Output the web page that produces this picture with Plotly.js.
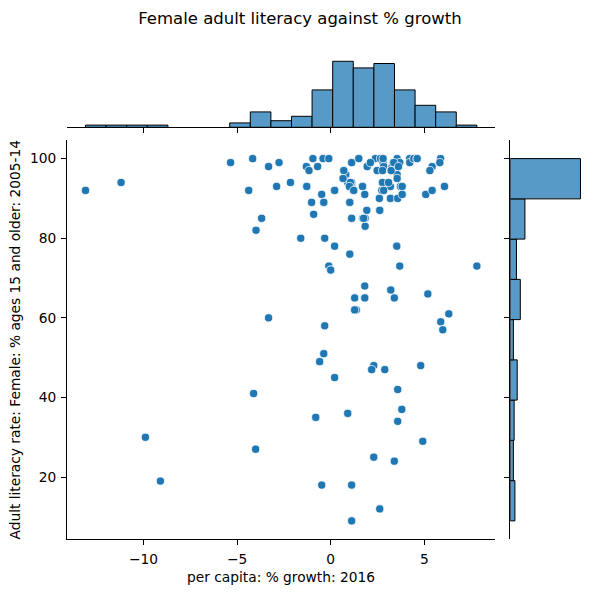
<!DOCTYPE html>
<html><head><meta charset="utf-8">
<script src="https://cdn.plot.ly/plotly-3.0.1.min.js"></script>
<style>html,body{margin:0;padding:0;background:#fff}#chart{width:594px;height:593px}</style>
</head><body><div id="chart"></div>
<script>
// per capita % growth 2016 (x) and female adult literacy % (y)
const growth = [
 -13.1,-11.2,-9.9,-9.1,-5.35,-4.38,-4.17,-4.12,-4.01,-3.99,
 -3.69,-3.32,-3.32,-2.89,-2.76,-2.15,-1.6,-1.3,-1.28,-1.16,
 -1.02,-0.95,-0.91,-0.8,-0.7,-0.59,-0.48,-0.48,-0.41,-0.37,
 -0.37,-0.32,-0.32,-0.1,-0.1,0.0,0.21,0.21,0.21,0.66,
 0.7,0.82,0.91,1.0,1.02,1.02,1.05,1.12,1.12,1.12,
 1.12,1.23,1.28,1.28,1.37,1.5,1.7,1.71,1.82,1.82,
 1.82,1.84,1.84,1.93,1.95,2.12,2.19,2.3,2.3,2.39,
 2.48,2.6,2.62,2.62,2.66,2.75,2.8,2.8,2.83,2.8,
 2.89,3.09,3.19,3.19,3.21,3.28,3.34,3.4,3.4,3.53,
 3.55,3.55,3.55,3.58,3.58,3.58,3.69,3.69,3.73,3.8,
 3.82,3.82,4.22,4.22,4.44,4.62,4.81,4.92,5.08,5.19,
 5.3,5.42,5.42,5.83,5.87,5.88,5.99,6.08,6.31,7.81,
 -0.37,0.0,
 1.12,1.02,1.12,0.7,0.8,0.91,1.0,1.12,1.12,0.7,1.05,1.12,0.21,0.66,1.0,
 1.76,1.28,1.82,2.19,1.95,2.12,1.7,1.23,1.5,
 2.62,3.21,2.77,3.23,2.77,3.09,2.73,2.83,3.37,
 3.62,5.3,4.62,5.83
];
const literacy = [
 92,94,30,19,99,92,100,41,27,82,
 85,98,60,93,99,94,80,98,93,97,
 89,100,86,35,98,49,91,18,100,89,
 51,80,58,100,73,72,92,78,45,95,
 97,96,36,93,89,76,94,99,85,18,
 9,92,65,62,62,100,93,85,91,68,
 65,85,83,87,98,99,47,48,25,100,
 97,90,87,12,100,94,99,92,98,100,
 47,94,93,90,67,98,99,65,24,78,
 100,96,95,90,42,34,99,73,93,37,
 93,91,100,99,100,100,48,29,91,66,
 97,98,92,99,100,59,57,93,61,73,
 89,72,
 85,89,18,95,96,94,93,93,94,97,94,99,92,95,93,
 85,62,65,47,98,99,93,92,100,
 87,67,97,97,94,94,92,92,99,
 98,97,100,99
];
const xTicks = [-10, -5, 0, 5];
const yTicks = [20, 40, 60, 80, 100];
const xBinCount = 19;
const yBinCount = 9;

const blue = '#1f77b4';
const histFill = 'rgb(87,153,199)';
const font = 'DejaVu Sans, sans-serif';

function bins(vals, n) {
  const lo = Math.min(...vals), hi = Math.max(...vals);
  const size = (hi - lo) * (1 + 1e-9) / n;
  const counts = new Array(n).fill(0);
  vals.forEach(v => { counts[Math.min(n - 1, Math.floor((v - lo) / size))]++; });
  return {start: lo, end: lo + n * size, size: size, max: Math.max(...counts)};
}
const bx = bins(growth, xBinCount);
const by = bins(literacy, yBinCount);

const xRange = [-14.09, 8.78];
const yRange = [4.45, 104.55];

const traces = [
  {type: 'scatter', mode: 'markers', x: growth, y: literacy, xaxis: 'x', yaxis: 'y',
   marker: {color: blue, size: 8.2, line: {color: 'white', width: 0.75}}, hoverinfo: 'skip'},
  {type: 'histogram', x: growth, xaxis: 'x2', yaxis: 'y2',
   xbins: {start: bx.start, end: bx.end, size: bx.size},
   marker: {color: histFill, line: {color: 'black', width: 1}}, hoverinfo: 'skip'},
  {type: 'histogram', y: literacy, xaxis: 'x3', yaxis: 'y3', orientation: 'h',
   ybins: {start: by.start, end: by.end, size: by.size},
   marker: {color: histFill, line: {color: 'black', width: 1}}, hoverinfo: 'skip'}
];

const axBase = {showgrid: false, zeroline: false, showline: true, linecolor: 'black', linewidth: 1.1,
  ticks: 'outside', ticklen: 5, tickwidth: 1.1, tickcolor: 'black', automargin: false,
  tickfont: {family: font, size: 13.75, color: 'black'}, fixedrange: true};

const layout = {
  width: 594, height: 593,
  margin: {l: 67, r: 10, t: 58, b: 54, pad: 0},
  paper_bgcolor: 'white', plot_bgcolor: 'white',
  showlegend: false, bargap: 0,
  font: {family: font, color: 'black'},
  title: {text: 'Female adult literacy against % growth', x: 0.505, xref: 'container', xanchor: 'center',
          y: 0.969, yref: 'container', yanchor: 'middle', font: {family: font, size: 16.5, color: 'black'}},
  xaxis: Object.assign({}, axBase, {domain: [0, 0.8279], range: xRange, anchor: 'y',
          tickmode: 'array', tickvals: xTicks, ticklabelstandoff: 2,
          title: {text: 'per capita: % growth: 2016', font: {family: font, size: 13.75, color: 'black'}, standoff: 6}}),
  yaxis: Object.assign({}, axBase, {domain: [0, 0.8285], range: yRange, anchor: 'x',
          tickmode: 'array', tickvals: yTicks, ticklabelstandoff: 2,
          title: {text: 'Adult literacy rate: Female: % ages 15 and older: 2005-14', font: {family: font, size: 13.75, color: 'black'}, standoff: 6}}),
  xaxis2: Object.assign({}, axBase, {domain: [0, 0.8279], range: xRange, anchor: 'y2',
          tickmode: 'array', tickvals: xTicks, showticklabels: false}),
  yaxis2: {domain: [0.8559, 1], range: [0, bx.max * 1.05], anchor: 'x2', visible: false, fixedrange: true},
  xaxis3: {domain: [0.8574, 1], range: [0, by.max * 1.05], anchor: 'y3', visible: false, fixedrange: true},
  yaxis3: Object.assign({}, axBase, {domain: [0, 0.8285], range: yRange, anchor: 'x3',
          tickmode: 'array', tickvals: yTicks, showticklabels: false})
};

Plotly.newPlot('chart', traces, layout, {displayModeBar: false, staticPlot: true});
</script>
</body></html>
